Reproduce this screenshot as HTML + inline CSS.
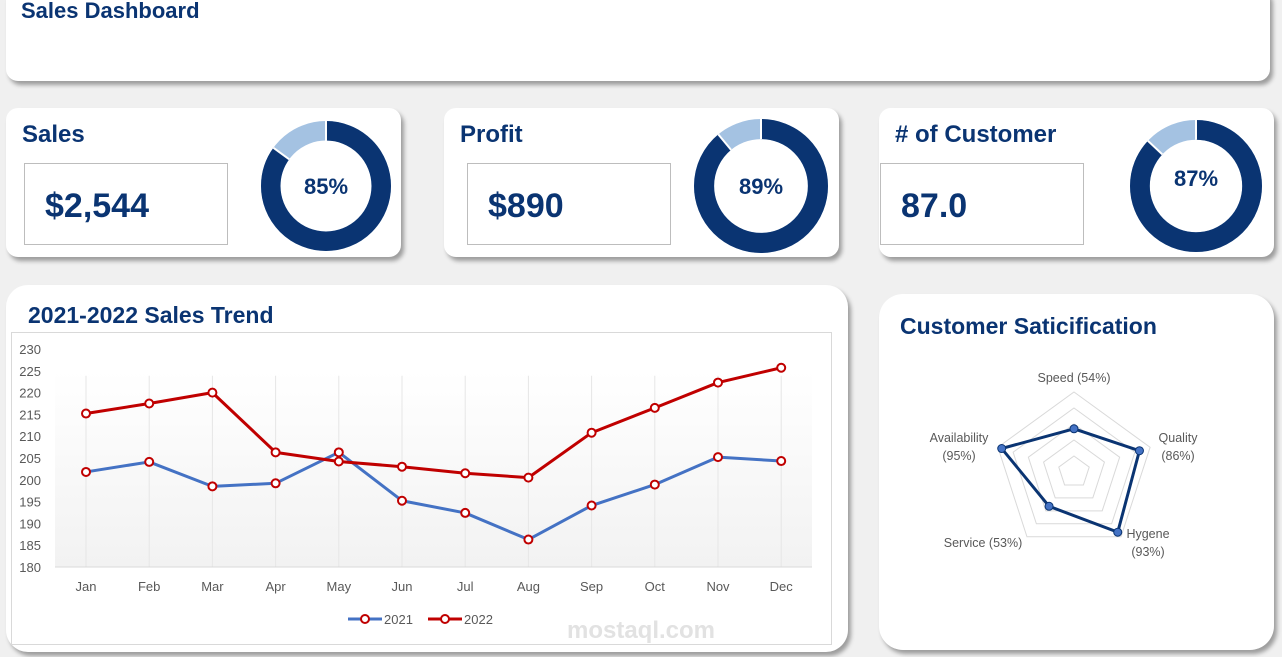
<!DOCTYPE html>
<html><head><meta charset="utf-8"><style>
*{box-sizing:border-box;margin:0;padding:0}
body{width:1282px;height:657px;background:#f0f0f0;font-family:"Liberation Sans",sans-serif;position:relative;overflow:hidden}
.card{position:absolute;background:#fff;border-radius:12px;box-shadow:3px 4px 4px rgba(0,0,0,.35)}
.t{position:absolute;color:#0a3472;font-weight:bold}
.box{position:absolute;border:1px solid #bdbdbd;background:#fff}
.val{position:absolute;color:#0a3472;font-weight:bold;font-size:34px}
</style></head><body>
<div class="card" style="left:6px;top:-12px;width:1264px;height:93px">
 <div class="t" style="left:15px;top:10px;font-size:22px">Sales Dashboard</div>
</div>

<div class="card" style="left:6px;top:108px;width:395px;height:149px">
 <div class="t" style="left:16px;top:13px;font-size:24px">Sales</div>
 <div class="box" style="left:18px;top:55px;width:204px;height:82px"></div>
 <div class="val" style="left:39px;top:79px">$2,544</div>
</div>
<div class="card" style="left:444px;top:108px;width:395px;height:149px">
 <div class="t" style="left:16px;top:13px;font-size:24px">Profit</div>
 <div class="box" style="left:23px;top:55px;width:204px;height:82px"></div>
 <div class="val" style="left:44px;top:79px">$890</div>
</div>
<div class="card" style="left:879px;top:108px;width:395px;height:149px">
 <div class="t" style="left:16px;top:13px;font-size:24px"># of Customer</div>
 <div class="box" style="left:1px;top:55px;width:204px;height:82px"></div>
 <div class="val" style="left:22px;top:79px">87.0</div>
</div>

<svg id="donuts" width="1282" height="657" style="position:absolute;left:0;top:0;pointer-events:none"></svg>

<div class="card" style="left:6px;top:285px;width:842px;height:367px;border-radius:22px">
 <div class="t" style="left:22px;top:17px;font-size:23px">2021-2022 Sales Trend</div>
 <div style="position:absolute;left:5px;top:47px;width:821px;height:313px;border:1px solid #d9d9d9;background:#fff"></div>
</div>
<div class="card" style="left:879px;top:294px;width:395px;height:356px;border-radius:24px">
 <div class="t" style="left:21px;top:19px;font-size:23px">Customer Saticification</div>
</div>
<svg id="charts" width="1282" height="657" style="position:absolute;left:0;top:0">
 <defs><linearGradient id="pg" x1="0" y1="0" x2="0" y2="1"><stop offset="0" stop-color="#fff"/><stop offset="1" stop-color="#f2f2f2"/></linearGradient></defs>
</svg>
<script>
const months=["Jan","Feb","Mar","Apr","May","Jun","Jul","Aug","Sep","Oct","Nov","Dec"];
const sales2021=[201.8,204.1,198.5,199.2,206.3,195.2,192.4,186.3,194.1,198.9,205.2,204.3];
const sales2022=[215.2,217.5,220,206.3,204.2,203,201.5,200.5,210.8,216.5,222.3,225.7];
const yTicks=[180,185,190,195,200,205,210,215,220,225,230];
const kpiPercents=[85,89,87];
const radarLabels=["Speed (54%)","Quality|(86%)","Hygene|(93%)","Service (53%)","Availability|(95%)"];
const radarValues=[54,86,93,53,95];

const NS="http://www.w3.org/2000/svg";
function mk(p,tag,a,txt){const e=document.createElementNS(NS,tag);for(const k in a)e.setAttribute(k,a[k]);if(txt!=null)e.textContent=txt;p.appendChild(e);return e;}

const dn=document.getElementById('donuts');
const centers=[[326,186,65],[761,186,67],[1196,186,66]];
kpiPercents.forEach((p,i)=>{
 const [cx,cy,R]=centers[i];const r=R*0.7;const rm=(R+r)/2,w=R-r;
 const C=2*Math.PI*rm;
 const bg=mk(dn,'circle',{cx,cy,r:rm,fill:'none',stroke:'#a4c2e2','stroke-width':w});
 
 
 const fg=mk(dn,'circle',{cx,cy,r:rm,fill:'none',stroke:'#0a3472','stroke-width':w,'stroke-dasharray':(C*p/100)+' '+C,transform:`rotate(-90 ${cx} ${cy})`});
 
 
 const a=-Math.PI/2+2*Math.PI*p/100;
 mk(dn,'line',{x1:cx+r*Math.cos(a),y1:cy+r*Math.sin(a),x2:cx+R*Math.cos(a),y2:cy+R*Math.sin(a),stroke:'#fff','stroke-width':2});
 mk(dn,'line',{x1:cx,y1:cy-r,x2:cx,y2:cy-R,stroke:'#fff','stroke-width':2});
 const t=mk(dn,'text',{x:cx,y:cy+(i==2?0:8),'text-anchor':'middle','font-size':22,'font-weight':'bold',fill:'#0a3472','font-family':'Liberation Sans'},p+'%');
 
 
});

const sv=document.getElementById('charts');
const X0=86,XS=63.2,Y0=567,YMIN=180,YMAX=230,YTOP=349;
const xs=i=>X0+i*XS, ys=v=>Y0-(v-YMIN)/(YMAX-YMIN)*(Y0-YTOP);
mk(sv,'rect',{x:55,y:ys(225),width:757,height:Y0-ys(225),fill:'url(#pg)'});
months.forEach((m,i)=>{
 mk(sv,'line',{x1:xs(i),y1:ys(225)+5,x2:xs(i),y2:Y0,stroke:'#e6e6e6'});
 const t=mk(sv,'text',{x:xs(i),y:591,'text-anchor':'middle','font-size':13,fill:'#595959'},m);
 
 
});
mk(sv,'line',{x1:55,y1:Y0,x2:812,y2:Y0,stroke:'#d9d9d9'});
yTicks.forEach(v=>{
 const t=mk(sv,'text',{x:41,y:ys(v)+5,'text-anchor':'end','font-size':13,fill:'#595959'},v);
 
 
});
const wm=mk(sv,'text',{x:641,y:638,'text-anchor':'middle','font-size':24,'font-weight':'bold',fill:'#e2e2e2'},'mostaql.com');


function series(vals,col,name){
 const l=mk(sv,'polyline',{points:vals.map((v,i)=>xs(i)+','+ys(v)).join(' '),fill:'none',stroke:col,'stroke-width':3,'stroke-linejoin':'round'});
 
 
 vals.forEach((v,i)=>{
  const c=mk(sv,'circle',{cx:xs(i),cy:ys(v),r:4,fill:'#fff',stroke:'#c00000','stroke-width':2});
  
  
 });
}
series(sales2021,'#4472c4','2021');
series(sales2022,'#c00000','2022');
[[348,'#4472c4','2021'],[428,'#c00000','2022']].forEach(([x,c,n])=>{
 const g=mk(sv,'g',{});
 
 
 mk(g,'line',{x1:x,y1:619,x2:x+34,y2:619,stroke:c,'stroke-width':3});
 mk(g,'circle',{cx:x+17,cy:619,r:4,fill:'#fff',stroke:'#c00000','stroke-width':2});
 mk(g,'text',{x:x+36,y:624,'font-size':13,fill:'#595959'},n);
});

const RC=[1074,472],RR=80;
const ang=k=>-Math.PI/2+k*2*Math.PI/5;
const pt=(k,f)=>[RC[0]+RR*f*Math.cos(ang(k)),RC[1]+RR*f*Math.sin(ang(k))];
for(let ring=1;ring<=5;ring++){
 mk(sv,'polygon',{points:[0,1,2,3,4].map(k=>pt(k,ring/5).join(',')).join(' '),fill:'none',stroke:'#d9d9d9'});
}
const rp=mk(sv,'polygon',{points:radarValues.map((v,k)=>pt(k,v/100).join(',')).join(' '),fill:'none',stroke:'#0a3472','stroke-width':3});


radarValues.forEach((v,k)=>{
 const [x,y]=pt(k,v/100);
 const c=mk(sv,'circle',{cx:x,cy:y,r:4,fill:'#4472c4',stroke:'#0a3472','stroke-width':1});
 
 
});
const lpos=[[1074,382,'middle'],[1178,442,'middle'],[1148,538,'middle'],[983,547,'middle'],[959,442,'middle']];
radarLabels.forEach((s,k)=>{
 const [x,y,a]=lpos[k];
 s.split('|').forEach((ln,j)=>{
  const t=mk(sv,'text',{x,y:y+j*18,'text-anchor':a,'font-size':12.5,fill:'#595959'},ln);
  
  
 });
});
</script>
</body></html>
